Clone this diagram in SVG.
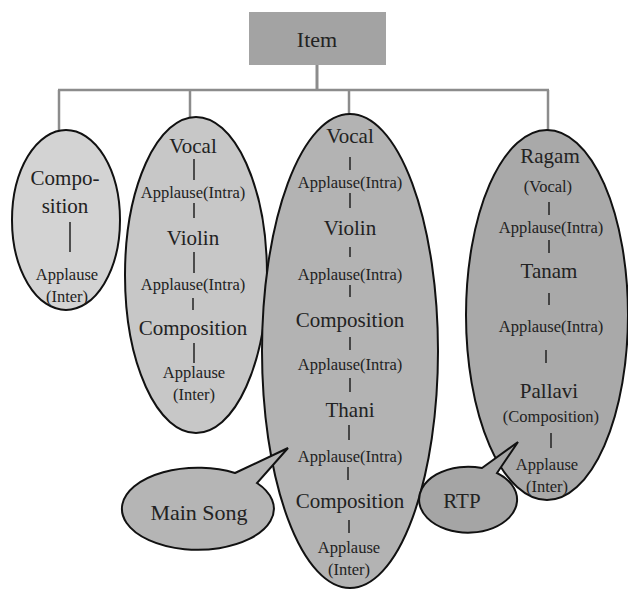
<svg xmlns="http://www.w3.org/2000/svg" width="628" height="590" viewBox="0 0 628 590">
<style>
text{font-family:"Liberation Serif","Times New Roman",serif;fill:#222;text-anchor:middle}
.n{stroke:#111;stroke-width:2}
.c{stroke:#8c8c8c;stroke-width:2.5;fill:none}
.v{stroke:#222;stroke-width:1.5}
.big{font-size:21px}
.sm{font-size:16.5px}
</style>
<rect width="628" height="590" fill="#fff"/>
<g id="connectors">
<line class="c" x1="317" y1="65" x2="317" y2="90" style="stroke-width:3"/>
<line class="c" x1="58" y1="90" x2="549" y2="90"/>
<line class="c" x1="59" y1="90" x2="59" y2="131"/>
<line class="c" x1="190" y1="90" x2="190" y2="119"/>
<line class="c" x1="349" y1="90" x2="349" y2="114"/>
<line class="c" x1="548" y1="90" x2="548" y2="131"/>
</g>
<g id="item">
<rect x="249" y="12" width="137" height="53" fill="#a3a3a3"/>
<text x="317" y="47" style="font-size:22px">Item</text>
</g>
<g id="composition-item">
<ellipse class="n" cx="66" cy="220" rx="54" ry="90" fill="#d3d3d3"/>
<text class="big" x="65" y="185">Compo-</text>
<text class="big" x="65" y="213">sition</text>
<line class="v" x1="70" y1="222" x2="70" y2="252"/>
<text class="sm" x="67" y="280">Applause</text>
<text class="sm" x="67" y="302">(Inter)</text>
</g>
<g id="vocal-violin-item">
<ellipse class="n" cx="196" cy="275" rx="71" ry="158" fill="#c7c7c7"/>
<text class="big" x="193" y="153">Vocal</text>
<line class="v" x1="194" y1="159" x2="194" y2="180"/>
<text class="sm" x="193" y="198">Applause(Intra)</text>
<line class="v" x1="194" y1="203" x2="194" y2="218"/>
<text class="big" x="193" y="245">Violin</text>
<line class="v" x1="194" y1="252" x2="194" y2="273"/>
<text class="sm" x="193" y="290">Applause(Intra)</text>
<line class="v" x1="193" y1="298" x2="193" y2="310"/>
<text class="big" x="193" y="335">Composition</text>
<line class="v" x1="194" y1="343" x2="194" y2="363"/>
<text class="sm" x="194" y="378">Applause</text>
<text class="sm" x="194" y="400">(Inter)</text>
</g>
<g id="main-item">
<ellipse class="n" cx="350" cy="351" rx="88" ry="237" fill="#b3b3b3"/>
<text class="big" x="350" y="143">Vocal</text>
<line class="v" x1="350" y1="157" x2="350" y2="170"/>
<text class="sm" x="350" y="188">Applause(Intra)</text>
<line class="v" x1="350" y1="193" x2="350" y2="208"/>
<text class="big" x="350" y="235">Violin</text>
<line class="v" x1="350" y1="247" x2="350" y2="257"/>
<text class="sm" x="350" y="280">Applause(Intra)</text>
<line class="v" x1="350" y1="285" x2="350" y2="297"/>
<text class="big" x="350" y="327">Composition</text>
<line class="v" x1="350" y1="337" x2="350" y2="350"/>
<text class="sm" x="350" y="370">Applause(Intra)</text>
<line class="v" x1="350" y1="378" x2="350" y2="392"/>
<text class="big" x="350" y="417">Thani</text>
<line class="v" x1="349" y1="425" x2="349" y2="440"/>
<text class="sm" x="350" y="462">Applause(Intra)</text>
<line class="v" x1="348" y1="467" x2="348" y2="480"/>
<text class="big" x="350" y="508">Composition</text>
<line class="v" x1="349" y1="520" x2="349" y2="533"/>
<text class="sm" x="349" y="553">Applause</text>
<text class="sm" x="349" y="575">(Inter)</text>
</g>
<g id="rtp-item">
<ellipse class="n" cx="547" cy="315" rx="81" ry="185" fill="#a9a9a9"/>
<text class="big" x="550" y="163">Ragam</text>
<text class="sm" x="548" y="192">(Vocal)</text>
<line class="v" x1="549" y1="202" x2="549" y2="215"/>
<text class="sm" x="551" y="233">Applause(Intra)</text>
<line class="v" x1="549" y1="240" x2="549" y2="253"/>
<text class="big" x="549" y="278">Tanam</text>
<line class="v" x1="549" y1="293" x2="549" y2="305"/>
<text class="sm" x="551" y="332">Applause(Intra)</text>
<line class="v" x1="546" y1="350" x2="546" y2="363"/>
<text class="big" x="549" y="398">Pallavi</text>
<text class="sm" x="551" y="422">(Composition)</text>
<line class="v" x1="551" y1="433" x2="551" y2="448"/>
<text class="sm" x="547" y="470">Applause</text>
<text class="sm" x="547" y="492">(Inter)</text>
</g>
<g id="main-song-callout">
<path class="n" d="M235,473 L288,448 L257,483 A76,41 0 1 1 235,473 Z" fill="#b5b5b5"/>
<text x="199" y="520" style="font-size:22px">Main Song</text>
</g>
<g id="rtp-callout">
<path class="n" d="M482,468 L518,442 L497,473 A49,33 0 1 1 482,468 Z" fill="#a5a5a5"/>
<text x="462" y="508" style="font-size:21px">RTP</text>
</g>
</svg>
